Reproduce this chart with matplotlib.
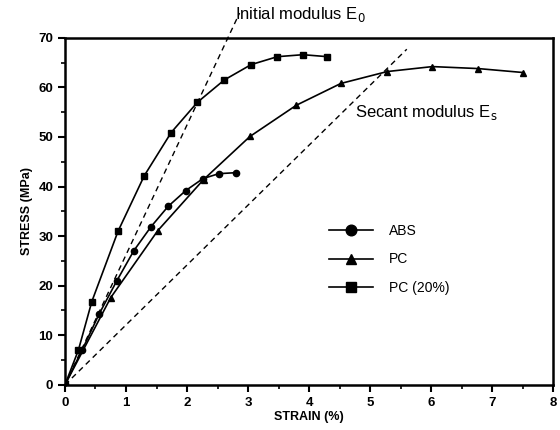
import matplotlib
matplotlib.use("Agg")
import matplotlib.pyplot as plt
from matplotlib.ticker import MultipleLocator

plt.rcParams['font.family'] = ['Liberation Sans', 'DejaVu Sans']

# Data
abs_strain = [0, 0.28, 0.56, 0.85, 1.13, 1.41, 1.69, 1.98, 2.26, 2.52, 2.80]
abs_stress = [0, 7.0, 14.3, 21.0, 27.1, 31.9, 36.0, 39.2, 41.6, 42.6, 42.8]

pc_strain = [0, 0.75, 1.52, 2.27, 3.03, 3.79, 4.52, 5.28, 6.02, 6.77, 7.51]
pc_stress = [0, 17.6, 31.1, 41.4, 50.1, 56.4, 60.8, 63.2, 64.2, 63.8, 63.0]

pc20_strain = [0, 0.22, 0.44, 0.87, 1.30, 1.74, 2.17, 2.61, 3.05, 3.48, 3.90, 4.30]
pc20_stress = [0, 7.0, 16.8, 31.0, 42.2, 50.9, 57.0, 61.5, 64.6, 66.2, 66.6, 66.2]

initial_line_x = [0, 2.86]
initial_line_y = [0, 75.0]
secant_line_x = [0, 5.6]
secant_line_y = [0, 67.7]

series_labels = ["ABS", "PC", "PC (20%)"]

fig = plt.figure(figsize=(5.6, 4.3), dpi=100)
ax = fig.add_axes([0.116, 0.105, 0.872, 0.807])

l1, = ax.plot(abs_strain, abs_stress, color='black', lw=1.2, marker='o', ms=4.5, label=series_labels[0])
l2, = ax.plot(pc_strain, pc_stress, color='black', lw=1.2, marker='^', ms=4.5, label=series_labels[1])
l3, = ax.plot(pc20_strain, pc20_stress, color='black', lw=1.2, marker='s', ms=4.2, label=series_labels[2])

ax.plot(initial_line_x, initial_line_y, color='black', lw=1.0, ls=(0, (4, 3)), clip_on=False)
ax.plot(secant_line_x, secant_line_y, color='black', lw=1.0, ls=(0, (4, 3)))

ax.text(2.79, 74.7, r"Initial modulus E$_\mathrm{0}$", fontsize=12, va='center', ha='left')
ax.text(4.75, 55, r"Secant modulus E$_\mathrm{s}$", fontsize=12, va='center', ha='left')

ax.set_xlim(0, 8)
ax.set_ylim(0, 70)
ax.xaxis.set_major_locator(MultipleLocator(1))
ax.xaxis.set_minor_locator(MultipleLocator(0.5))
ax.yaxis.set_major_locator(MultipleLocator(10))
ax.yaxis.set_minor_locator(MultipleLocator(5))
ax.tick_params(which='major', direction='out', length=5, width=1.5, labelsize=9.5)
ax.tick_params(which='minor', direction='out', length=3, width=1.2)
for lab in ax.get_xticklabels() + ax.get_yticklabels():
    lab.set_fontweight('bold')
for sp in ax.spines.values():
    sp.set_linewidth(1.8)

ax.set_xlabel("STRAIN (%)", fontsize=9, fontweight='bold', labelpad=2)
ax.set_ylabel("STRESS (MPa)", fontsize=9, fontweight='bold', labelpad=4)

leg = ax.legend(handles=[l1, l2, l3], loc='upper left', bbox_to_anchor=(0.515, 0.50),
                frameon=False, fontsize=10, handlelength=3.2, markerscale=1.7,
                labelspacing=1.05, handletextpad=1.1)

fig.savefig("out.png", dpi=100)
